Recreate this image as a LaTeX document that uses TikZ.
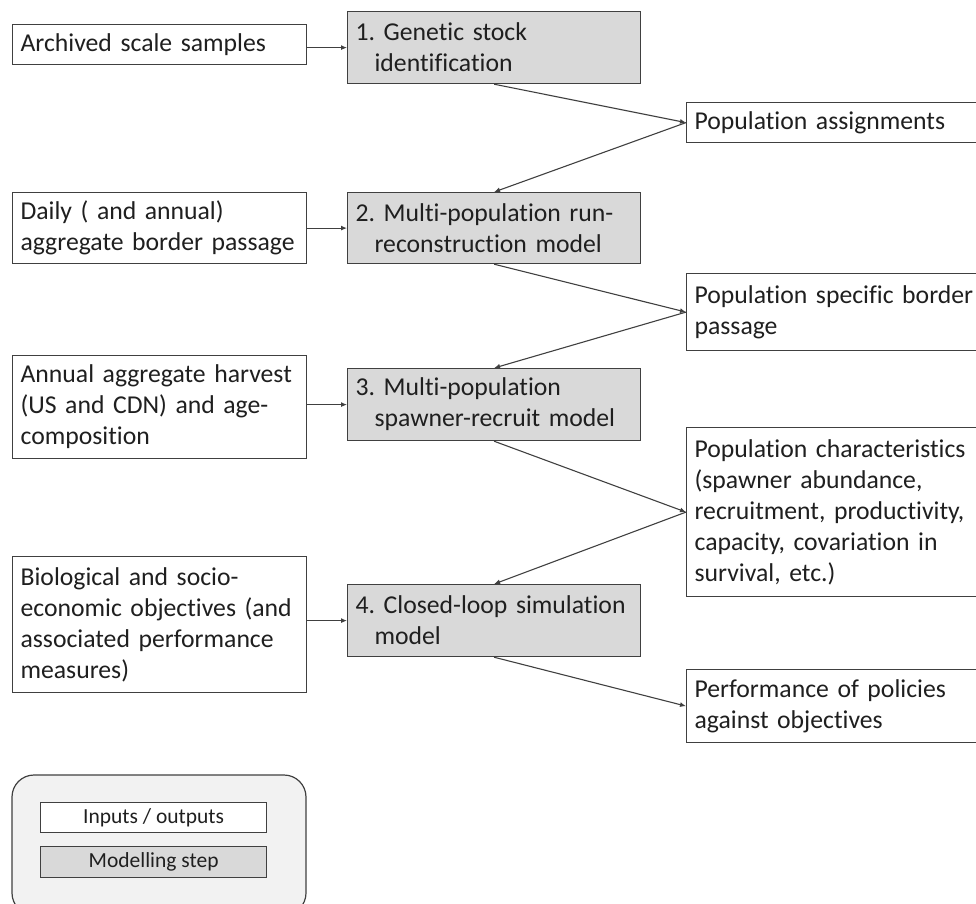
\documentclass[tikz,border=0pt]{standalone}
\usepackage{fontspec}
\setmainfont{Carlito}[Ligatures=NoCommon]
\usetikzlibrary{arrows.meta}
\definecolor{bordercol}{HTML}{404040}
\definecolor{stepfill}{HTML}{D9D9D9}
\definecolor{legfill}{HTML}{F2F2F2}
\definecolor{txtcol}{HTML}{1F1F1F}
\frenchspacing
\begin{document}
\begin{tikzpicture}[x=1pt,y=-1pt,
  box/.style={draw=bordercol,line width=1.2pt,anchor=north west,inner xsep=8pt,inner ysep=0pt,align=left,font=\fontsize{25.7}{31}\selectfont,text=txtcol},
  iobox/.style={box,fill=white,text width=278pt},
  outbox/.style={box,fill=white,text width=294pt},
  stepbox/.style={box,fill=stepfill,text width=277pt},
  legbox/.style={draw=bordercol,line width=1.2pt,anchor=north west,inner sep=0pt,minimum width=226pt,align=center,font=\fontsize{21.5}{25}\selectfont,text=txtcol},
  arr/.style={draw=bordercol,line width=1.1pt,-{Latex[length=6pt,width=5pt]}},
]
\useasboundingbox (0,0) rectangle (976,903);
\clip (0,0) rectangle (976,903);
% inputs
\node[iobox,minimum height=40pt] (archived) at (12,24) {\mbox{Archived scale samples}};
\node[iobox,minimum height=71pt] (daily) at (12,192) {\mbox{Daily ( and annual)}\\\mbox{aggregate border passage}};
\node[iobox,minimum height=103pt] (annual) at (12,355) {\mbox{Annual aggregate harvest}\\\mbox{(US and CDN) and age-}\\\mbox{composition}};
\node[iobox,minimum height=136pt] (bio) at (12,556) {\mbox{Biological and socio-}\\\mbox{economic objectives (and}\\\mbox{associated performance}\\\mbox{measures)}};
% steps
\node[stepbox,minimum height=72pt] (s1) at (347,11) {\mbox{1. Genetic stock}\\\hspace*{19pt}\mbox{identification}};
\node[stepbox,minimum height=71pt] (s2) at (347,192) {\mbox{2. Multi-population run-}\\\hspace*{19pt}\mbox{reconstruction model}};
\node[stepbox,minimum height=72pt] (s3) at (347,368) {\mbox{3. Multi-population}\\\hspace*{19pt}\mbox{spawner-recruit model}};
\node[stepbox,minimum height=72pt] (s4) at (347,584) {\mbox{4. Closed-loop simulation}\\\hspace*{19pt}\mbox{model}};
% outputs
\node[outbox,minimum height=40pt] (o1) at (686,102) {\mbox{Population assignments}};
\node[outbox,minimum height=77pt] (o2) at (686,273) {\mbox{Population specific border}\\\mbox{passage}};
\node[outbox,minimum height=169pt] (o3) at (686,427) {\mbox{Population characteristics}\\\mbox{(spawner abundance,}\\\mbox{recruitment, productivity,}\\\mbox{capacity, covariation in}\\\mbox{survival, etc.)}};
\node[outbox,minimum height=73pt] (o4) at (686,669) {\mbox{Performance of policies}\\\mbox{against objectives}};
% legend
\draw[draw=bordercol,line width=1.2pt,fill=legfill,rounded corners=22pt] (12,775) rectangle (306,915);
\node[legbox,fill=white,minimum height=30pt] (l1) at (40,802) {Inputs / outputs};
\node[legbox,fill=stepfill,minimum height=31pt] (l2) at (40,846) {Modelling step};
% connectors
\draw[arr] (archived.east |- s1.west) -- (s1.west);
\draw[arr] (daily.east |- s2.west) -- (s2.west);
\draw[arr] (annual.east |- s3.west) -- (s3.west);
\draw[arr] (bio.east |- s4.west) -- (s4.west);
\draw[arr] (s1.south) -- (o1.west);
\draw[arr] (o1.west) -- (s2.north);
\draw[arr] (s2.south) -- (o2.west);
\draw[arr] (o2.west) -- (s3.north);
\draw[arr] (s3.south) -- (o3.west);
\draw[arr] (o3.west) -- (s4.north);
\draw[arr] (s4.south) -- (o4.west);
\end{tikzpicture}
\end{document}
